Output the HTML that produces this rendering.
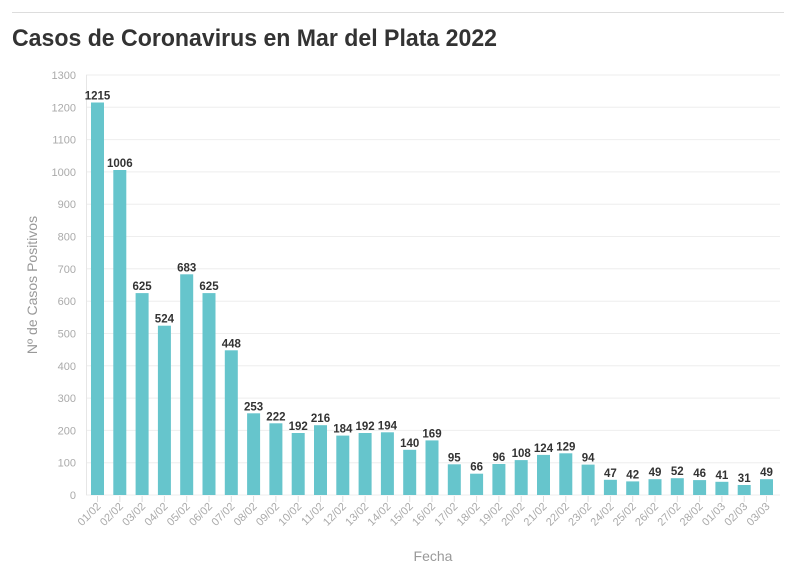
<!DOCTYPE html>
<html><head><meta charset="utf-8"><style>
body{margin:0;background:#fff;width:796px;height:575px;overflow:hidden;font-family:"Liberation Sans",sans-serif}
</style></head><body>
<svg width="796" height="575" xmlns="http://www.w3.org/2000/svg" font-family="Liberation Sans, sans-serif">
<line x1="12" y1="12.5" x2="784" y2="12.5" stroke="#ddd"/>
<text x="12" y="46" font-size="24" font-weight="bold" fill="#333" textLength="485" lengthAdjust="spacingAndGlyphs">Casos de Coronavirus en Mar del Plata 2022</text>
<g stroke="#eee">
<line x1="86" x2="780" y1="495" y2="495"/><line x1="86" x2="780" y1="462.7" y2="462.7"/><line x1="86" x2="780" y1="430.4" y2="430.4"/><line x1="86" x2="780" y1="398.1" y2="398.1"/><line x1="86" x2="780" y1="365.8" y2="365.8"/><line x1="86" x2="780" y1="333.5" y2="333.5"/><line x1="86" x2="780" y1="301.2" y2="301.2"/><line x1="86" x2="780" y1="268.8" y2="268.8"/><line x1="86" x2="780" y1="236.5" y2="236.5"/><line x1="86" x2="780" y1="204.2" y2="204.2"/><line x1="86" x2="780" y1="171.9" y2="171.9"/><line x1="86" x2="780" y1="139.6" y2="139.6"/><line x1="86" x2="780" y1="107.3" y2="107.3"/><line x1="86" x2="780" y1="75" y2="75"/>
</g>
<line x1="86.5" x2="86.5" y1="75" y2="495" stroke="#e6e6e6"/>
<g font-size="11" fill="#aaa" text-anchor="end">
<text x="76" y="499">0</text><text x="76" y="466.7">100</text><text x="76" y="434.4">200</text><text x="76" y="402.1">300</text><text x="76" y="369.8">400</text><text x="76" y="337.5">500</text><text x="76" y="305.2">600</text><text x="76" y="272.8">700</text><text x="76" y="240.5">800</text><text x="76" y="208.2">900</text><text x="76" y="175.9">1000</text><text x="76" y="143.6">1100</text><text x="76" y="111.3">1200</text><text x="76" y="79">1300</text>
</g>
<defs><style>
.b rect{fill:#66c5cc}.b .v{font-size:11.5px;font-weight:bold;fill:#333;text-anchor:middle}.b line{stroke:#ddd}.b .l{font-size:11px;fill:#aaa;text-anchor:end}
</style></defs>
<g class="b">
<g transform="translate(97.5,0)"><rect x="-6.5" y="102.5" width="13" height="392.5"/><text class="v" y="99.5">1215</text><line y1="496" y2="502"/><text class="l" transform="translate(4,507) rotate(-45)">01/02</text></g>
<g transform="translate(119.8,0)"><rect x="-6.5" y="170" width="13" height="325"/><text class="v" y="167">1006</text><line y1="496" y2="502"/><text class="l" transform="translate(4,507) rotate(-45)">02/02</text></g>
<g transform="translate(142.1,0)"><rect x="-6.5" y="293.1" width="13" height="201.9"/><text class="v" y="290.1">625</text><line y1="496" y2="502"/><text class="l" transform="translate(4,507) rotate(-45)">03/02</text></g>
<g transform="translate(164.4,0)"><rect x="-6.5" y="325.7" width="13" height="169.3"/><text class="v" y="322.7">524</text><line y1="496" y2="502"/><text class="l" transform="translate(4,507) rotate(-45)">04/02</text></g>
<g transform="translate(186.7,0)"><rect x="-6.5" y="274.3" width="13" height="220.7"/><text class="v" y="271.3">683</text><line y1="496" y2="502"/><text class="l" transform="translate(4,507) rotate(-45)">05/02</text></g>
<g transform="translate(209,0)"><rect x="-6.5" y="293.1" width="13" height="201.9"/><text class="v" y="290.1">625</text><line y1="496" y2="502"/><text class="l" transform="translate(4,507) rotate(-45)">06/02</text></g>
<g transform="translate(231.3,0)"><rect x="-6.5" y="350.3" width="13" height="144.7"/><text class="v" y="347.3">448</text><line y1="496" y2="502"/><text class="l" transform="translate(4,507) rotate(-45)">07/02</text></g>
<g transform="translate(253.6,0)"><rect x="-6.5" y="413.3" width="13" height="81.7"/><text class="v" y="410.3">253</text><line y1="496" y2="502"/><text class="l" transform="translate(4,507) rotate(-45)">08/02</text></g>
<g transform="translate(275.9,0)"><rect x="-6.5" y="423.3" width="13" height="71.7"/><text class="v" y="420.3">222</text><line y1="496" y2="502"/><text class="l" transform="translate(4,507) rotate(-45)">09/02</text></g>
<g transform="translate(298.2,0)"><rect x="-6.5" y="433" width="13" height="62"/><text class="v" y="430">192</text><line y1="496" y2="502"/><text class="l" transform="translate(4,507) rotate(-45)">10/02</text></g>
<g transform="translate(320.5,0)"><rect x="-6.5" y="425.2" width="13" height="69.8"/><text class="v" y="422.2">216</text><line y1="496" y2="502"/><text class="l" transform="translate(4,507) rotate(-45)">11/02</text></g>
<g transform="translate(342.8,0)"><rect x="-6.5" y="435.6" width="13" height="59.4"/><text class="v" y="432.6">184</text><line y1="496" y2="502"/><text class="l" transform="translate(4,507) rotate(-45)">12/02</text></g>
<g transform="translate(365.1,0)"><rect x="-6.5" y="433" width="13" height="62"/><text class="v" y="430">192</text><line y1="496" y2="502"/><text class="l" transform="translate(4,507) rotate(-45)">13/02</text></g>
<g transform="translate(387.4,0)"><rect x="-6.5" y="432.3" width="13" height="62.7"/><text class="v" y="429.3">194</text><line y1="496" y2="502"/><text class="l" transform="translate(4,507) rotate(-45)">14/02</text></g>
<g transform="translate(409.7,0)"><rect x="-6.5" y="449.8" width="13" height="45.2"/><text class="v" y="446.8">140</text><line y1="496" y2="502"/><text class="l" transform="translate(4,507) rotate(-45)">15/02</text></g>
<g transform="translate(432,0)"><rect x="-6.5" y="440.4" width="13" height="54.6"/><text class="v" y="437.4">169</text><line y1="496" y2="502"/><text class="l" transform="translate(4,507) rotate(-45)">16/02</text></g>
<g transform="translate(454.3,0)"><rect x="-6.5" y="464.3" width="13" height="30.7"/><text class="v" y="461.3">95</text><line y1="496" y2="502"/><text class="l" transform="translate(4,507) rotate(-45)">17/02</text></g>
<g transform="translate(476.6,0)"><rect x="-6.5" y="473.7" width="13" height="21.3"/><text class="v" y="470.7">66</text><line y1="496" y2="502"/><text class="l" transform="translate(4,507) rotate(-45)">18/02</text></g>
<g transform="translate(498.9,0)"><rect x="-6.5" y="464" width="13" height="31"/><text class="v" y="461">96</text><line y1="496" y2="502"/><text class="l" transform="translate(4,507) rotate(-45)">19/02</text></g>
<g transform="translate(521.2,0)"><rect x="-6.5" y="460.1" width="13" height="34.9"/><text class="v" y="457.1">108</text><line y1="496" y2="502"/><text class="l" transform="translate(4,507) rotate(-45)">20/02</text></g>
<g transform="translate(543.5,0)"><rect x="-6.5" y="454.9" width="13" height="40.1"/><text class="v" y="451.9">124</text><line y1="496" y2="502"/><text class="l" transform="translate(4,507) rotate(-45)">21/02</text></g>
<g transform="translate(565.8,0)"><rect x="-6.5" y="453.3" width="13" height="41.7"/><text class="v" y="450.3">129</text><line y1="496" y2="502"/><text class="l" transform="translate(4,507) rotate(-45)">22/02</text></g>
<g transform="translate(588.1,0)"><rect x="-6.5" y="464.6" width="13" height="30.4"/><text class="v" y="461.6">94</text><line y1="496" y2="502"/><text class="l" transform="translate(4,507) rotate(-45)">23/02</text></g>
<g transform="translate(610.4,0)"><rect x="-6.5" y="479.8" width="13" height="15.2"/><text class="v" y="476.8">47</text><line y1="496" y2="502"/><text class="l" transform="translate(4,507) rotate(-45)">24/02</text></g>
<g transform="translate(632.7,0)"><rect x="-6.5" y="481.4" width="13" height="13.6"/><text class="v" y="478.4">42</text><line y1="496" y2="502"/><text class="l" transform="translate(4,507) rotate(-45)">25/02</text></g>
<g transform="translate(655,0)"><rect x="-6.5" y="479.2" width="13" height="15.8"/><text class="v" y="476.2">49</text><line y1="496" y2="502"/><text class="l" transform="translate(4,507) rotate(-45)">26/02</text></g>
<g transform="translate(677.3,0)"><rect x="-6.5" y="478.2" width="13" height="16.8"/><text class="v" y="475.2">52</text><line y1="496" y2="502"/><text class="l" transform="translate(4,507) rotate(-45)">27/02</text></g>
<g transform="translate(699.6,0)"><rect x="-6.5" y="480.1" width="13" height="14.9"/><text class="v" y="477.1">46</text><line y1="496" y2="502"/><text class="l" transform="translate(4,507) rotate(-45)">28/02</text></g>
<g transform="translate(721.9,0)"><rect x="-6.5" y="481.8" width="13" height="13.2"/><text class="v" y="478.8">41</text><line y1="496" y2="502"/><text class="l" transform="translate(4,507) rotate(-45)">01/03</text></g>
<g transform="translate(744.2,0)"><rect x="-6.5" y="485" width="13" height="10"/><text class="v" y="482">31</text><line y1="496" y2="502"/><text class="l" transform="translate(4,507) rotate(-45)">02/03</text></g>
<g transform="translate(766.5,0)"><rect x="-6.5" y="479.2" width="13" height="15.8"/><text class="v" y="476.2">49</text><line y1="496" y2="502"/><text class="l" transform="translate(4,507) rotate(-45)">03/03</text></g>
</g>
<text transform="translate(37,285) rotate(-90)" text-anchor="middle" font-size="14" fill="#999">Nº de Casos Positivos</text>
<text x="433" y="561" text-anchor="middle" font-size="14" fill="#999">Fecha</text>
</svg>
</body></html>
